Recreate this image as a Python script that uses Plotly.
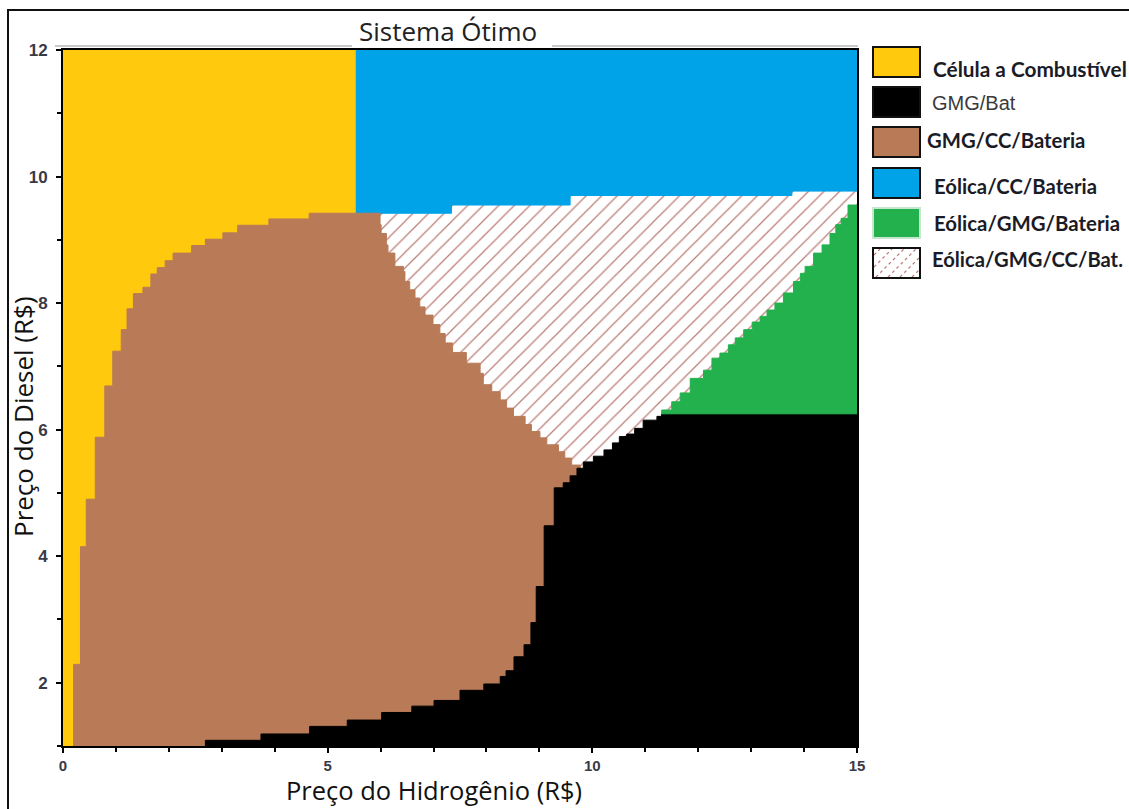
import plotly.graph_objects as go

# ---------------- data ----------------
# Axes: hydrogen price (x) and diesel price (y), both in R$
x_min, x_max = 0, 15
y_min, y_max = 1, 12

# Célula a Combustível | GMG/CC/Bateria border: riser x and riser top
fc_x = [0.20, 0.33, 0.44, 0.61, 0.79, 0.94, 1.10, 1.21, 1.33, 1.51, 1.66, 1.78,
        1.93, 2.08, 2.43, 2.69, 3.02, 3.30, 3.89, 4.65]
fc_y = [2.29, 4.15, 4.90, 5.88, 6.69, 7.24, 7.58, 7.91, 8.15, 8.25, 8.46, 8.56,
        8.67, 8.79, 8.91, 9.01, 9.11, 9.23, 9.33, 9.42]

# GMG/CC/Bateria | Eólica/GMG/CC/Bat. border: band top y and band right edge x
cc_y = [9.42, 9.24, 9.10, 8.92, 8.79, 8.58, 8.50, 8.34, 8.21, 8.08, 7.94, 7.81,
        7.66, 7.52, 7.37, 7.22, 7.05, 6.89, 6.71, 6.60, 6.47, 6.34, 6.21, 6.08,
        5.97, 5.87, 5.76, 5.65, 5.55, 5.44]
cc_x = [5.99, 6.01, 6.11, 6.14, 6.27, 6.43, 6.46, 6.55, 6.65, 6.74, 6.84, 6.99,
        7.12, 7.22, 7.36, 7.62, 7.88, 7.94, 8.10, 8.26, 8.38, 8.51, 8.73, 8.85,
        9.01, 9.14, 9.36, 9.48, 9.61, 9.77]

# GMG/Bat upper border: column start x and column top y
gb_x = [2.69, 3.74, 4.66, 5.37, 6.02, 6.59, 7.01, 7.50, 7.95, 8.26, 8.37, 8.52,
        8.71, 8.84, 8.94, 9.09, 9.28, 9.45, 9.58, 9.71, 9.83, 10.02, 10.22, 10.38,
        10.51, 10.65, 10.80, 10.96, 11.22, 11.31]
gb_top = [1.09, 1.19, 1.31, 1.41, 1.53, 1.63, 1.72, 1.88, 1.98, 2.10, 2.19, 2.41,
          2.60, 2.95, 3.52, 4.48, 5.08, 5.16, 5.27, 5.39, 5.49, 5.58, 5.68, 5.79,
          5.89, 5.93, 6.02, 6.15, 6.21, 6.25]

# Eólica/GMG/Bateria upper border: column start x and column top y
eg_x = [11.31, 11.50, 11.66, 11.85, 12.10, 12.26, 12.41, 12.57, 12.70, 12.86,
        13.02, 13.17, 13.30, 13.45, 13.61, 13.80, 13.93, 14.02, 14.18, 14.34,
        14.49, 14.60, 14.70, 14.83]
eg_top = [6.31, 6.44, 6.58, 6.81, 6.94, 7.13, 7.21, 7.34, 7.45, 7.58, 7.70, 7.79,
          7.89, 8.00, 8.16, 8.34, 8.47, 8.58, 8.79, 8.92, 9.10, 9.24, 9.34, 9.55]

# Eólica/CC/Bateria lower border: step start x and bottom y
ec_x = [5.52, 7.34, 9.58, 13.77]
ec_bottom = [9.42, 9.55, 9.70, 9.77]

labels = ["Célula a Combustível", "GMG/Bat", "GMG/CC/Bateria",
          "Eólica/CC/Bateria", "Eólica/GMG/Bateria", "Eólica/GMG/CC/Bat."]
colors = ["#FFC90E", "#000000", "#B97A57", "#00A2E8", "#22B14C", "#FFFFFF"]
hatch_color = "#bb7c78"

# ---------------- geometry helpers ----------------
def rising(xs, tops, y_start, x_end):
    """Staircase that climbs: riser at xs[i] up to tops[i], tread to next riser."""
    pts = [(xs[0], y_start)]
    for i, (x, t) in enumerate(zip(xs, tops)):
        nxt = xs[i + 1] if i + 1 < len(xs) else x_end
        pts += [(x, t), (nxt, t)]
    return pts


def falling(ys, xs, y_end):
    """Staircase that descends: tread at ys[i] out to xs[i], then drop."""
    pts = []
    for i, (y, x) in enumerate(zip(ys, xs)):
        nxt = ys[i + 1] if i + 1 < len(ys) else y_end
        pts += [(x, y), (x, nxt)]
    return pts


def region(pts, color, name, pattern=None):
    xs = [p[0] for p in pts] + [pts[0][0]]
    ys = [p[1] for p in pts] + [pts[0][1]]
    kw = dict(x=xs, y=ys, mode="lines", fill="toself", name=name,
              hoverinfo="skip", showlegend=False)
    if pattern:
        kw.update(fillcolor="white", line=dict(width=0), fillpattern=pattern)
    else:
        kw.update(fillcolor=color, line=dict(color=color, width=1))
    return go.Scatter(**kw)


# Regions (later traces are painted over earlier ones)
hatch_pts = [(ec_x[0], cc_y[-1] - 0.1), (x_max, cc_y[-1] - 0.1),
             (x_max, max(ec_bottom)), (ec_x[0], max(ec_bottom))]
blue_pts = rising(ec_x, ec_bottom, y_max, x_max) + [(x_max, y_max)]
yellow_pts = [(x_min, y_min), (ec_x[0], y_min), (ec_x[0], y_max), (x_min, y_max)]
brown_pts = (rising(fc_x, fc_y, y_min, cc_x[0])
             + falling(cc_y, cc_x, y_min))
black_pts = rising(gb_x, gb_top, y_min, x_max) + [(x_max, y_min)]
green_pts = rising(eg_x, eg_top, gb_top[-1], x_max) + [(x_max, gb_top[-1])]

pattern = dict(shape="/", fgcolor=hatch_color, bgcolor="white",
               size=11, solidity=0.11, fillmode="replace")

fig = go.Figure()
fig.add_trace(region(hatch_pts, "white", labels[5], pattern))
fig.add_trace(region(blue_pts, colors[3], labels[3]))
fig.add_trace(region(yellow_pts, colors[0], labels[0]))
fig.add_trace(region(brown_pts, colors[2], labels[2]))
fig.add_trace(region(black_pts, colors[1], labels[1]))
fig.add_trace(region(green_pts, colors[4], labels[4]))

# ---------------- layout ----------------
W, H = 1129, 809
L, R, T, B = 63, 272, 50, 63
PW, PH = W - L - R, H - T - B


def px(x):
    return (x - L) / PW


def py(y):
    return 1 - (y - T) / PH


def tick_font(size):
    return dict(family="Liberation Sans, Arial, sans-serif", size=size,
                color="#3a3a46", weight="bold")


axis_common = dict(showline=True, linecolor="black", linewidth=2, mirror=True,
                   ticks="outside", ticklen=5, tickwidth=1.5, tickcolor="black",
                   showgrid=False, zeroline=False, fixedrange=True)

fig.update_xaxes(range=[x_min, x_max], tickvals=[0, 5, 10, 15],
                 minor=dict(dtick=1, ticklen=4, tickcolor="black", ticks="outside"),
                 ticklabelstandoff=0, tickfont=tick_font(15), **axis_common)
fig.update_yaxes(range=[y_min, y_max], tickvals=[2, 4, 6, 8, 10, 12],
                 minor=dict(dtick=1, ticklen=4, tickcolor="black", ticks="outside"),
                 ticklabelstandoff=5, tickfont=tick_font(17), **axis_common)

shapes = []
annotations = []

# outer frame
shapes.append(dict(type="rect", xref="paper", yref="paper",
                   x0=px(8), x1=px(1145), y0=py(10), y1=py(825),
                   line=dict(color="#111111", width=2), fillcolor="rgba(0,0,0,0)"))
# faint rule above the plot
for a, b in [(55, 352), (552, 858)]:
    shapes.append(dict(type="line", xref="paper", yref="paper",
                       x0=px(a), x1=px(b), y0=py(46), y1=py(46),
                       line=dict(color="#c9c9c9", width=2)))

text_font = "Open Sans, Noto Sans, sans-serif"
annotations.append(dict(text="Sistema Ótimo", xref="paper", yref="paper",
                        x=px(448), y=py(31), xanchor="center", yanchor="middle",
                        showarrow=False,
                        font=dict(family=text_font, size=26, color="#222222")))
annotations.append(dict(text="Preço do Hidrogênio (R$)", xref="paper", yref="paper",
                        x=px(434), y=py(790), xanchor="center", yanchor="middle",
                        showarrow=False,
                        font=dict(family=text_font, size=25.5, color="#111111")))
annotations.append(dict(text="Preço do Diesel (R$)", xref="paper", yref="paper",
                        x=px(23), y=py(417), xanchor="center", yanchor="middle",
                        showarrow=False, textangle=-90,
                        font=dict(family=text_font, size=26, color="#111111")))

# legend
box_x0, box_x1 = 873, 920
box_tops = [47, 87, 127, 168, 208, 248]
box_h = 30
text_x = [931, 930, 925, 932, 932, 930]
text_y = [68, 103, 140, 186, 223, 259]
text_size = [20.8, 20, 20.3, 20.3, 20.4, 20.2]
for i, lab in enumerate(labels):
    y0, y1 = box_tops[i], box_tops[i] + box_h
    border = "#c7e6cf" if i == 4 else "#111111"
    shapes.append(dict(type="rect", xref="paper", yref="paper",
                       x0=px(box_x0), x1=px(box_x1), y0=py(y1), y1=py(y0),
                       fillcolor=colors[i], line=dict(color=border, width=2)))
    if i == 1:
        f = dict(family="Liberation Sans, Arial, sans-serif", size=text_size[i],
                 color="#3a3a3a")
    else:
        f = dict(family="Lato, sans-serif", size=text_size[i], color="#1b1b26",
                 weight="bold")
    annotations.append(dict(text=lab, xref="paper", yref="paper",
                            x=px(text_x[i]), y=py(text_y[i]), xanchor="left",
                            yanchor="middle", showarrow=False, font=f))

# hatch strokes inside the last legend box
y0, y1 = box_tops[5] + 1, box_tops[5] + box_h - 1
x0, x1 = box_x0 + 1, box_x1 - 1
path = ""
k = x0 + y0 + 6
while k < x1 + y1:
    # line x + y = k (screen coordinates), clipped to the box
    xa, ya = max(x0, k - y1), min(y1, k - x0)
    xb, yb = min(x1, k - y0), max(y0, k - x1)
    if xb > xa:
        path += f"M {px(xa):.5f} {py(ya):.5f} L {px(xb):.5f} {py(yb):.5f} "
    k += 12
shapes.append(dict(type="path", xref="paper", yref="paper", path=path,
                   line=dict(color=hatch_color, width=1.2, dash="dot")))
shapes.append(dict(type="rect", xref="paper", yref="paper",
                   x0=px(box_x0), x1=px(box_x1), y0=py(y1 + 1), y1=py(y0 - 1),
                   line=dict(color="#111111", width=2)))

fig.update_layout(width=W, height=H, margin=dict(l=L, r=R, t=T, b=B),
                  paper_bgcolor="white", plot_bgcolor="white",
                  shapes=shapes, annotations=annotations, showlegend=False)

fig.write_html("out.html")
